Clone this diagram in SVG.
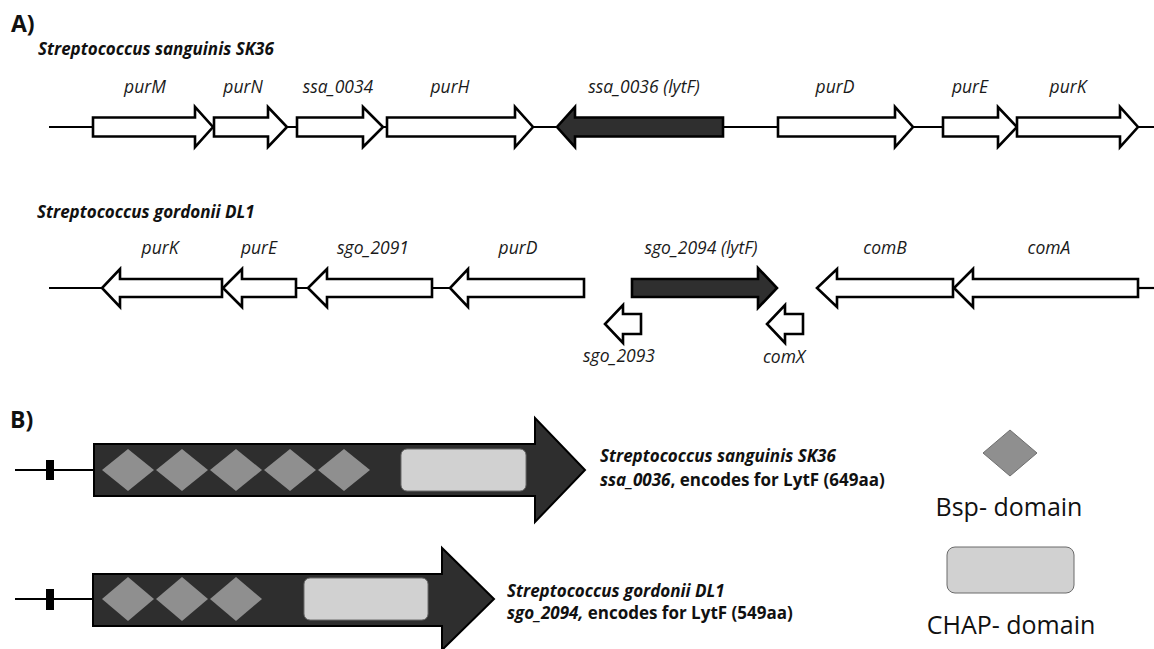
<svg xmlns="http://www.w3.org/2000/svg" width="1154" height="649" viewBox="0 0 1154 649">
<style>
.bg{fill:#fff}
.track{stroke:#000;stroke-width:2.2;fill:none}
.gene{fill:#fff;stroke:#000;stroke-width:2.6;stroke-linejoin:miter}
.dark{fill:#2f2f2f;stroke:#000;stroke-width:2.6}
.lab{font-family:"Open Sans","DejaVu Sans",sans-serif;font-style:italic;font-size:17.5px;fill:#1a1a1a;text-anchor:middle}
.sp{font-family:"Open Sans","DejaVu Sans",sans-serif;font-style:italic;font-weight:bold;font-size:17px;fill:#111}
.hd{font-family:"Open Sans","DejaVu Sans",sans-serif;font-weight:bold;font-size:23px;fill:#111}
.prot{fill:#2e2e2e;stroke:#000;stroke-width:2}
.bsp{fill:#8f8f8f}
.chap{fill:#d1d1d1;stroke:#6a6a6a;stroke-width:1}
.desc{font-family:"Open Sans","DejaVu Sans",sans-serif;font-weight:bold;font-size:17px;fill:#111}
.leg{font-family:"Open Sans","DejaVu Sans",sans-serif;font-size:25px;fill:#111;text-anchor:middle}
</style>
<rect class="bg" x="0" y="0" width="1154" height="649"/>

<text class="hd" x="11" y="32">A)</text>
<text class="sp" x="38" y="55">Streptococcus sanguinis SK36</text>
<text class="sp" x="37" y="218">Streptococcus gordonii DL1</text>

<g id="connectors">
<line class="track" x1="49" y1="127" x2="1154" y2="127"/>
<line class="track" x1="49" y1="288" x2="450" y2="288"/>
<line class="track" x1="1138" y1="288" x2="1154" y2="288"/>
<line class="track" x1="15" y1="470" x2="94" y2="470"/>
<line class="track" x1="15" y1="599" x2="93" y2="599"/>
</g>

<g id="sk36-purM"><polygon class="gene" points="93,117.5 195,117.5 195,107 213,127 195,147 195,136.5 93,136.5"/><text class="lab" x="145" y="93">purM</text></g>
<g id="sk36-purN"><polygon class="gene" points="214,117.5 268,117.5 268,107 287,127 268,147 268,136.5 214,136.5"/><text class="lab" x="243" y="93">purN</text></g>
<g id="sk36-ssa0034"><polygon class="gene" points="297,117.5 363,117.5 363,107 383,127 363,147 363,136.5 297,136.5"/><text class="lab" x="338" y="93">ssa_0034</text></g>
<g id="sk36-purH"><polygon class="gene" points="387,117.5 515,117.5 515,107 533,127 515,147 515,136.5 387,136.5"/><text class="lab" x="450" y="93">purH</text></g>
<g id="sk36-ssa0036"><polygon class="dark" points="723,117.5 575,117.5 575,107 557,127 575,147 575,136.5 723,136.5"/><text class="lab" x="644" y="93">ssa_0036 (lytF)</text></g>
<g id="sk36-purD"><polygon class="gene" points="778,117.5 895,117.5 895,107 913,127 895,147 895,136.5 778,136.5"/><text class="lab" x="835" y="93">purD</text></g>
<g id="sk36-purE"><polygon class="gene" points="943,117.5 998,117.5 998,107 1017,127 998,147 998,136.5 943,136.5"/><text class="lab" x="970" y="93">purE</text></g>
<g id="sk36-purK"><polygon class="gene" points="1017,117.5 1120,117.5 1120,107 1138,127 1120,147 1120,136.5 1017,136.5"/><text class="lab" x="1068" y="93">purK</text></g>

<g id="dl1-purK"><polygon class="gene" points="222,279 120,279 120,269 102,288 120,307 120,297 222,297"/><text class="lab" x="160" y="254">purK</text></g>
<g id="dl1-purE"><polygon class="gene" points="296,279 242,279 242,269 223,288 242,307 242,297 296,297"/><text class="lab" x="259" y="254">purE</text></g>
<g id="dl1-sgo2091"><polygon class="gene" points="432,279 327,279 327,269 308,288 327,307 327,297 432,297"/><text class="lab" x="373" y="254">sgo_2091</text></g>
<g id="dl1-purD"><polygon class="gene" points="584,279 468,279 468,269 450,288 468,307 468,297 584,297"/><text class="lab" x="518" y="254">purD</text></g>
<g id="dl1-sgo2094"><polygon class="dark" points="632,279 758,279 758,268 777,288 758,308 758,297 632,297"/><text class="lab" x="701" y="254">sgo_2094 (lytF)</text></g>
<g id="dl1-comB"><polygon class="gene" points="953,279 837,279 837,269 817,288 837,307 837,297 953,297"/><text class="lab" x="885" y="254">comB</text></g>
<g id="dl1-comA"><polygon class="gene" points="1138,279 973,279 973,269 954,288 973,307 973,297 1138,297"/><text class="lab" x="1049" y="254">comA</text></g>
<g id="dl1-sgo2093"><polygon class="gene" points="641,314 623,314 623,305 605,324 623,343 623,334 641,334"/><text class="lab" x="619" y="362">sgo_2093</text></g>
<g id="dl1-comX"><polygon class="gene" points="803,314 785,314 785,305 767,324 785,343 785,334 803,334"/><text class="lab" x="784" y="363">comX</text></g>

<text class="hd" x="10" y="428">B)</text>

<g id="lytF-sk36">
<rect x="46" y="460" width="8" height="20" fill="#000"/>
<polygon class="prot" points="94,444 535,444 535,418 585,470 535,522 535,496 94,496"/>
<polygon class="bsp" points="102,470 128,449 154,470 128,491"/>
<polygon class="bsp" points="156,470 182,449 208,470 182,491"/>
<polygon class="bsp" points="210,470 236,449 262,470 236,491"/>
<polygon class="bsp" points="264,470 290,449 316,470 290,491"/>
<polygon class="bsp" points="318,470 344,449 370,470 344,491"/>
<rect class="chap" x="401" y="449" width="125" height="42" rx="6"/>
<text class="desc" x="600" y="462"><tspan font-style="italic">Streptococcus sanguinis SK36</tspan></text>
<text class="desc" x="600" y="486"><tspan font-style="italic">ssa_0036</tspan>, encodes for LytF (649aa)</text>
</g>

<g id="lytF-dl1">
<rect x="46" y="589" width="8" height="21" fill="#000"/>
<polygon class="prot" points="93,574 442,574 442,548 494,599 442,650 442,626 93,626"/>
<polygon class="bsp" points="102,599 128,577 154,599 128,621"/>
<polygon class="bsp" points="156,599 182,577 208,599 182,621"/>
<polygon class="bsp" points="210,599 236,577 262,599 236,621"/>
<rect class="chap" x="304" y="578" width="124" height="42" rx="6"/>
<text class="desc" x="507" y="597"><tspan font-style="italic">Streptococcus gordonii DL1</tspan></text>
<text class="desc" x="507" y="619"><tspan font-style="italic">sgo_2094,</tspan> encodes for LytF (549aa)</text>
</g>

<g id="legend-bsp">
<polygon points="983,453 1010,430 1037,453 1010,476" fill="#8f8f8f" stroke="#6f6f6f" stroke-width="1"/>
<text class="leg" x="1009" y="516">Bsp- domain</text>
</g>
<g id="legend-chap">
<rect class="chap" x="947" y="547" width="127" height="46" rx="8" stroke="#333" stroke-width="1.3"/>
<text class="leg" x="1011" y="634">CHAP- domain</text>
</g>
</svg>
